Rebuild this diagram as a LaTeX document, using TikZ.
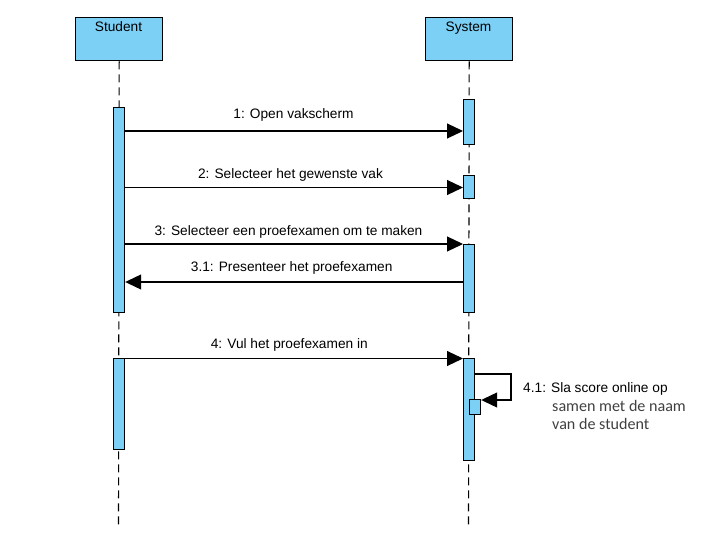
\documentclass[tikz,border=0pt]{standalone}
\usepackage{fontspec}
\setmainfont{Liberation Sans}
\newfontfamily\calib{Carlito}
\usetikzlibrary{arrows.meta}
\definecolor{actfill}{RGB}{125,208,245}
\definecolor{notegray}{RGB}{64,64,64}
\begin{document}
\begin{tikzpicture}[x=1pt,y=-1pt,
  actor/.style={draw=black,fill=actfill,line width=1.4pt,inner sep=0pt,minimum width=87pt,minimum height=43pt,anchor=north west},
  act/.style={draw=black,fill=actfill,line width=1.2pt,inner sep=0pt,minimum width=11pt,anchor=north west},
  life/.style={draw=black,line width=1.1pt,dash pattern=on 8pt off 5pt},
  msg/.style={draw=black,line width=1.1pt,-{Triangle[length=16pt,width=15pt]}},
  lbl/.style={anchor=base,inner sep=0pt,font=\fontsize{13.7}{16}\selectfont},
  note/.style={anchor=base west,inner sep=0pt},
]
\useasboundingbox (0,0) rectangle (714,551);
% actors
\node[actor] (stu) at (75,17) {};
\node[actor] (sys) at (425,17) {};
\node[lbl] (stuT) at (118.5,31.5) {Student};
\node[lbl] (sysT) at (468.5,31.5) {System};
\coordinate (stuEnd) at (118.5,528);
\coordinate (sysEnd) at (468.5,528);
\draw[life] (stu.south) -- (stuEnd);
\draw[life] (sys.south) -- (sysEnd);
% activations
\node[act,minimum height=205pt] (sa1) at (113,107) {};
\node[act,minimum height=91pt] (sa2) at (113,358) {};
\node[act,minimum height=45pt] (sy1) at (463,99) {};
\node[act,minimum height=23pt] (sy2) at (463,175) {};
\node[act,minimum height=68pt] (sy3) at (463,244) {};
\node[act,minimum height=102pt] (sy4) at (463,358) {};
\node[act,minimum height=15pt,minimum width=11pt] (sy5) at (469,399) {};
% message heights
\coordinate (y1) at (0,131);
\coordinate (y2) at (0,187.5);
\coordinate (y3) at (0,244);
\coordinate (y31) at (0,282);
\coordinate (y4) at (0,358.5);
\coordinate (s1) at (511,374);
\coordinate (s2) at (511,400);
% messages
\draw[msg] (sa1.east |- y1) -- (sy1.west |- y1);
\draw[msg] (sa1.east |- y2) -- (sy2.west |- y2);
\draw[msg] (sa1.east |- y3) -- (sy3.west |- y3);
\draw[msg] (sy3.west |- y31) -- (sa1.east |- y31);
\draw[msg] (sa2.east |- y4) -- (sy4.west |- y4);
\draw[msg] (sy4.east |- s1) -- (s1) -- (s2) -- (sy5.east |- s2);
% labels
\node[lbl] (l1) at (293.5,118.3) {1: Open vakscherm};
\node[lbl] (l2) at (290.5,178.3) {2: Selecteer het gewenste vak};
\node[lbl] (l3) at (288.5,235.8) {3: Selecteer een proefexamen om te maken};
\node[lbl] (l31) at (291.7,271.7) {3.1: Presenteer het proefexamen};
\node[lbl] (l4) at (289.3,348.3) {4: Vul het proefexamen in};
\node[note,font=\fontsize{13.7}{16}\selectfont] (n1) at (523,392.5) {4.1: Sla score online op};
\node[note,font=\calib\fontsize{16.1}{18}\selectfont,text=notegray] (n2) at (552,411.5) {samen met de naam};
\node[note,font=\calib\fontsize{16.1}{18}\selectfont,text=notegray] (n3) at (552,429.3) {van de student};
\end{tikzpicture}
\end{document}
